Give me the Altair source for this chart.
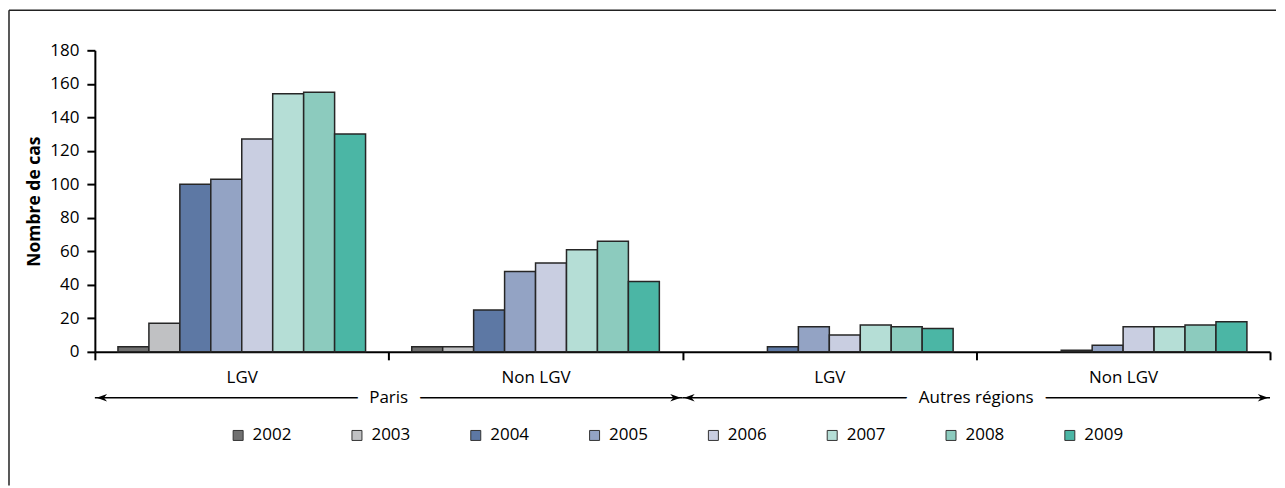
import altair as alt
import pandas as pd

years = ["2002", "2003", "2004", "2005", "2006", "2007", "2008", "2009"]
colors = ["#707070", "#c0c1c3", "#5d78a4", "#93a3c4", "#c9cee1", "#b5ded6", "#8ccbbe", "#4bb6a5"]
regions = ["Paris", "Paris", "Autres régions", "Autres régions"]
types = ["LGV", "Non LGV", "LGV", "Non LGV"]
paris_lgv = [3, 17, 100, 103, 127, 154, 155, 130]
paris_non_lgv = [3, 3, 25, 48, 53, 61, 66, 42]
autres_lgv = [0, 0, 3, 15, 10, 16, 15, 14]
autres_non_lgv = [0, 0, 1, 4, 15, 15, 16, 18]
y_ticks = [0, 20, 40, 60, 80, 100, 120, 140, 160, 180]
region_names = ["Paris", "Autres régions"]

W, H = 1177, 302
FONT = "Open Sans"
FS = 17

groups = [f"{r}|{t}" for r, t in zip(regions, types)]
series = [paris_lgv, paris_non_lgv, autres_lgv, autres_non_lgv]
rows = []
for g, vals in zip(groups, series):
    for yr, v in zip(years, vals):
        rows.append({"group": g, "year": yr, "value": v})
bars_df = pd.DataFrame(rows)
bars_df = bars_df[bars_df["value"] > 0]

reg_rows = []
for rn in region_names:
    gs = [g for g in groups if g.startswith(rn + "|")]
    reg_rows.append({"region": rn, "group": gs[0], "group_end": gs[-1]})
reg_df = pd.DataFrame(reg_rows)
end_df = pd.DataFrame([{"region": r["region"], "group": r["group_end"]} for r in reg_rows])

xscale = alt.Scale(domain=groups, paddingInner=0, paddingOuter=0)
x_axis = alt.Axis(title=None, labelAngle=0, labelExpr="split(datum.label, '|')[1]")

bars = alt.Chart(bars_df).mark_bar(stroke="#262626", strokeWidth=1.5).encode(
    x=alt.X("group:N", sort=groups, scale=xscale, axis=x_axis),
    xOffset=alt.XOffset("year:N", sort=years,
                        scale=alt.Scale(domain=years, paddingInner=0, paddingOuter=0.746)),
    y=alt.Y("value:Q", scale=alt.Scale(domain=[0, 180], nice=False),
            axis=alt.Axis(values=y_ticks, title="Nombre de cas")),
    color=alt.Color("year:N", sort=years, scale=alt.Scale(domain=years, range=colors),
                    legend=alt.Legend(orient="none", legendX=135, legendY=377,
                                      direction="horizontal", columns=8, title=None,
                                      symbolType="square", symbolSize=100,
                                      symbolStrokeColor="#333333", symbolStrokeWidth=1,
                                      symbolOpacity=1, labelFontSize=FS, labelFont=FONT,
                                      labelColor="black", labelOffset=6, columnPadding=57,
                                      padding=0)),
)

ybr = H + 46
bracket_line = alt.Chart(reg_df).mark_rule(color="black", strokeWidth=1.3).encode(
    x=alt.X("group:N", bandPosition=0, scale=xscale, axis=x_axis),
    x2=alt.X2("group_end:N", bandPosition=1),
    y=alt.value(ybr),
)
arrow_left = alt.Chart(reg_df).mark_point(
    shape="M -1 0 L 1 -0.7 L 0.4 0 L 1 0.7 Z", size=110, filled=True,
    color="black", opacity=1, xOffset=7).encode(
    x=alt.X("group:N", bandPosition=0, scale=xscale, axis=x_axis),
    y=alt.value(ybr),
)
arrow_right = alt.Chart(end_df).mark_point(
    shape="M 1 0 L -1 -0.7 L -0.4 0 L -1 0.7 Z", size=110, filled=True,
    color="black", opacity=1, xOffset=-7).encode(
    x=alt.X("group:N", bandPosition=1, scale=xscale, axis=x_axis),
    y=alt.value(ybr),
)
label_halo = alt.Chart(reg_df).mark_text(
    font=FONT, fontSize=FS, stroke="white", strokeWidth=26, strokeJoin="round",
    strokeCap="round", fill="white", baseline="middle", align="center").encode(
    x=alt.X("group:N", bandPosition=1, scale=xscale, axis=x_axis),
    y=alt.value(ybr),
    text="region:N",
)
label_text = alt.Chart(reg_df).mark_text(
    font=FONT, fontSize=FS, color="black", baseline="middle", align="center").encode(
    x=alt.X("group:N", bandPosition=1, scale=xscale, axis=x_axis),
    y=alt.value(ybr),
    text="region:N",
)

frame_data = alt.Data(values=[{"k": 1}])
frame_left = alt.Chart(frame_data).mark_rule(color="#222222", strokeWidth=1.5).encode(
    x=alt.value(-86), y=alt.value(-40), y2=alt.value(436))
frame_top = alt.Chart(frame_data).mark_rule(color="#222222", strokeWidth=1.5).encode(
    x=alt.value(-86), x2=alt.value(1183), y=alt.value(-40))

chart = alt.layer(
    bars, bracket_line, label_halo, label_text, arrow_left, arrow_right, frame_left, frame_top
).properties(
    width=W, height=H,
    padding={"left": 0, "top": 1, "right": 0, "bottom": 0},
).configure(
    font=FONT,
).configure_view(
    stroke=None,
).configure_axis(
    domainColor="black", domainWidth=2, tickColor="black", tickWidth=2, tickSize=8,
    labelFontSize=FS, labelColor="black", labelFont=FONT, grid=False,
    titleFont=FONT, titleColor="black",
).configure_axisX(
    tickBand="extent", labelPadding=10,
).configure_axisY(
    labelPadding=8, titleFontSize=17.5, titleFontWeight="bold", titlePadding=6,
)

chart.save("out.html", embed_options={"renderer": "svg", "actions": False})
